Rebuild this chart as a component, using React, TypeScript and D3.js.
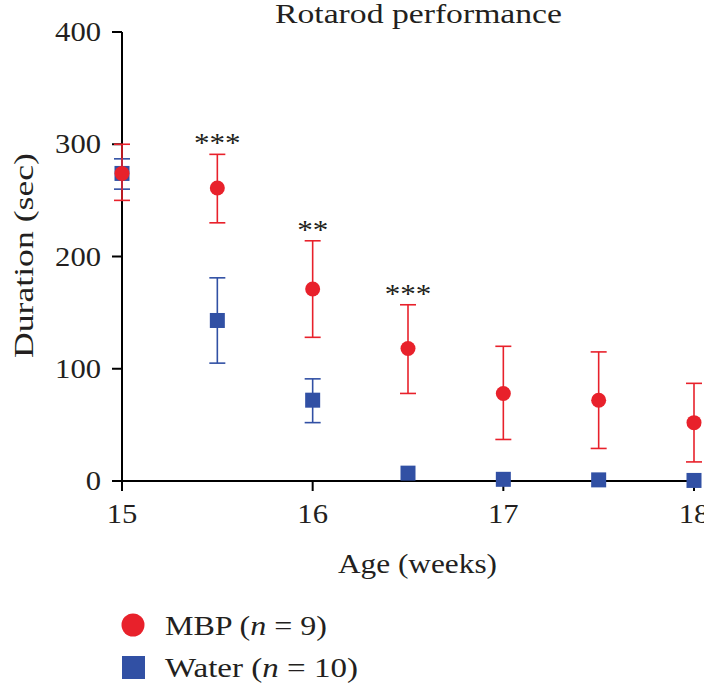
import React from "react";
import * as d3 from "d3";

const weeks = [15, 15.5, 16, 16.5, 17, 17.5, 18];
const mbpMean = [274, 261, 171, 118, 78, 72, 52];
const mbpLow = [250, 230, 128, 78, 37, 29, 17];
const mbpHigh = [300, 291, 214, 157, 120, 115, 87];
const waterMean = [274, 143, 72, 7, 1.5, 1, 0.5];
const waterLow = [260, 105, 52, 7, 1.5, 1, 0.5];
const waterHigh = [287, 181, 91, 7, 1.5, 1, 0.5];
const sigLabels = ["", "***", "**", "***", "", "", ""];
const xTicks = [15, 16, 17, 18];
const yTicks = [0, 100, 200, 300, 400];

const RED = "#e8212b";
const BLUE = "#3150a4";
const INK = "#231f20";
const FONT = "'Liberation Serif', 'DejaVu Serif', serif";

export default function App() {
  const W = 704, H = 685;
  const x = d3.scaleLinear().domain([15, 18]).range([122, 694]);
  const y = d3.scaleLinear().domain([0, 400]).range([481, 32]);
  const cap = 8;
  const sq = 15;

  return (
    <svg width={W} height={H} style={{ position: "absolute", left: 0, top: 0 }} fontFamily={FONT}>
      <rect width={W} height={H} fill="#fff" />
      <text x={275} y={23} fontSize={27} textLength={287} lengthAdjust="spacingAndGlyphs" fill={INK}>Rotarod performance</text>

      {/* y axis */}
      <line x1={x(15)} x2={x(15)} y1={y(400)} y2={y(0)} stroke="#000" strokeWidth={2} />
      {yTicks.map(t => (
        <g key={t}>
          <line x1={x(15) - 10} x2={x(15)} y1={y(t)} y2={y(t)} stroke="#000" strokeWidth={2} />
          <text x={101} y={y(t) + 9} fontSize={27} textAnchor="end" fill={INK}
            textLength={String(t).length * 15.3} lengthAdjust="spacingAndGlyphs">{t}</text>
        </g>
      ))}
      {/* x axis */}
      <line x1={x(15)} x2={x(18) + 2} y1={y(0)} y2={y(0)} stroke="#000" strokeWidth={2} />
      {xTicks.map(t => (
        <g key={t}>
          <line x1={x(t)} x2={x(t)} y1={y(0)} y2={y(0) + 10} stroke="#000" strokeWidth={2} />
          <text x={x(t)} y={523} fontSize={27} textAnchor="middle" fill={INK}
            textLength={String(t).length * 15.3} lengthAdjust="spacingAndGlyphs">{t}</text>
        </g>
      ))}
      <text x={338} y={573} fontSize={27} textLength={159} lengthAdjust="spacingAndGlyphs" fill={INK}>Age (weeks)</text>
      <text transform={`translate(33,358) rotate(-90)`} fontSize={27} textLength={205} lengthAdjust="spacingAndGlyphs" fill={INK}>Duration (sec)</text>

      {/* Water series */}
      {weeks.map((w, i) => (
        <g key={"w" + i}>
          {waterHigh[i] - waterLow[i] > 0.5 && (
            <g stroke={BLUE} strokeWidth={1.6}>
              <line x1={x(w)} x2={x(w)} y1={y(waterLow[i])} y2={y(waterHigh[i])} />
              <line x1={x(w) - cap} x2={x(w) + cap} y1={y(waterLow[i])} y2={y(waterLow[i])} />
              <line x1={x(w) - cap} x2={x(w) + cap} y1={y(waterHigh[i])} y2={y(waterHigh[i])} />
            </g>
          )}
          <rect x={x(w) - sq / 2} y={y(waterMean[i]) - sq / 2} width={sq} height={sq} fill={BLUE} />
        </g>
      ))}

      {/* MBP series */}
      {weeks.map((w, i) => (
        <g key={"m" + i}>
          <g stroke={RED} strokeWidth={1.6}>
            <line x1={x(w)} x2={x(w)} y1={y(mbpLow[i])} y2={y(mbpHigh[i])} />
            <line x1={x(w) - cap} x2={x(w) + cap} y1={y(mbpLow[i])} y2={y(mbpLow[i])} />
            <line x1={x(w) - cap} x2={x(w) + cap} y1={y(mbpHigh[i])} y2={y(mbpHigh[i])} />
          </g>
          <circle cx={x(w)} cy={y(mbpMean[i])} r={7.5} fill={RED} />
          {sigLabels[i] && (
            <text x={x(w)} y={y(mbpHigh[i]) - 2} fontSize={27} textAnchor="middle" fill={INK}
              textLength={sigLabels[i].length * 15.5} lengthAdjust="spacingAndGlyphs">{sigLabels[i]}</text>
          )}
        </g>
      ))}

      {/* legend */}
      <circle cx={133} cy={625} r={11.5} fill={RED} />
      <text x={165} y={635} fontSize={27} fill={INK} textLength={162} lengthAdjust="spacingAndGlyphs">MBP (<tspan fontStyle="italic">n</tspan> = 9)</text>
      <rect x={122} y={656} width={23} height={23} fill={BLUE} />
      <text x={165} y={677} fontSize={27} fill={INK} textLength={193} lengthAdjust="spacingAndGlyphs">Water (<tspan fontStyle="italic">n</tspan> = 10)</text>
    </svg>
  );
}
